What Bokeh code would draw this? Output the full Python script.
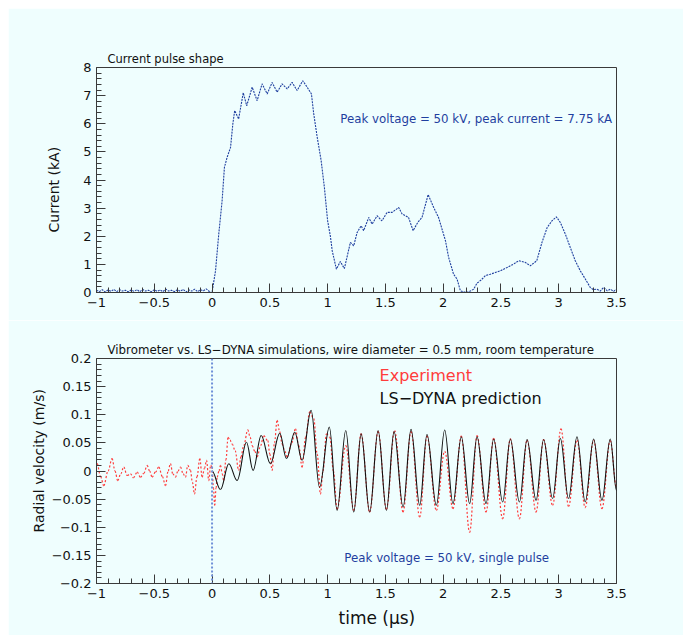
from bokeh.plotting import figure
from bokeh.layouts import column
from bokeh.models import FixedTicker, Label, Span, CustomJSTickFormatter, Range1d, Title
from bokeh.embed import file_html
from bokeh.resources import INLINE
import numpy as np

# ---------------- data ----------------
x_ticks = [-1, -0.5, 0, 0.5, 1, 1.5, 2, 2.5, 3, 3.5]
cur_y_ticks = [0, 1, 2, 3, 4, 5, 6, 7, 8]
vel_y_ticks = [-0.2, -0.15, -0.1, -0.05, 0, 0.05, 0.1, 0.15, 0.2]

t_cur = [-1.0, -0.975, -0.95, -0.925, -0.9, -0.875, -0.85, -0.825, -0.8, -0.775,
         -0.75, -0.725, -0.7, -0.675, -0.65, -0.625, -0.6, -0.575, -0.55, -0.525,
         -0.5, -0.475, -0.45, -0.425, -0.4, -0.375, -0.35, -0.325, -0.3, -0.275,
         -0.25, -0.225, -0.2, -0.175, -0.15, -0.125, -0.1, -0.075, -0.05, -0.025, 0.0,
         0.03, 0.058, 0.087, 0.107, 0.13, 0.16, 0.18, 0.196, 0.23, 0.27, 0.30, 0.347,
         0.39, 0.433, 0.477, 0.52, 0.563, 0.606, 0.65, 0.693, 0.736, 0.785, 0.823,
         0.86, 0.88, 0.91, 0.944, 0.972, 1.0, 1.024, 1.04, 1.076, 1.11, 1.145, 1.197,
         1.226, 1.255, 1.29, 1.312, 1.356, 1.385, 1.428, 1.47, 1.515, 1.558, 1.615,
         1.645, 1.70, 1.74, 1.78, 1.817, 1.87, 1.918, 1.96, 2.02, 2.047, 2.09, 2.12,
         2.149, 2.2, 2.235, 2.264, 2.293, 2.33, 2.365, 2.408, 2.45, 2.495, 2.553,
         2.61, 2.653, 2.71, 2.754, 2.81, 2.855, 2.9, 2.942, 2.98, 3.014, 3.057, 3.1,
         3.143, 3.187, 3.23, 3.273, 3.3, 3.33, 3.36, 3.388, 3.42, 3.446, 3.475, 3.5]
i_cur = [0.08, 0.03, 0.1, 0.02, 0.09, 0.04, 0.11, 0.03, 0.1, 0.05,
         0.08, 0.02, 0.09, 0.04, 0.1, 0.03, 0.11, 0.05, 0.08, 0.02,
         0.1, 0.04, 0.09, 0.03, 0.12, 0.05, 0.08, 0.03, 0.1, 0.04,
         0.11, 0.02, 0.09, 0.05, 0.12, 0.03, 0.1, 0.06, 0.13, 0.04, 0.0,
         0.77, 2.08, 3.26, 4.45, 4.8, 5.16, 6.0, 6.47, 6.17, 7.1, 6.64, 7.3,
         6.82, 7.42, 7.06, 7.47, 7.12, 7.42, 7.24, 7.47, 7.18, 7.53, 7.3,
         7.06, 6.35, 5.52, 4.69, 3.74, 2.55, 2.0, 1.48, 0.83, 1.1, 0.85, 1.78,
         1.66, 2.13, 2.37, 2.2, 2.67, 2.43, 2.73, 2.55, 2.85, 2.85, 3.02,
         2.79, 2.67, 2.2, 2.49, 2.67, 3.48, 3.02, 2.67, 1.84, 1.25, 0.65, 0.48,
         0.06, 0.0, 0.05, 0.12, 0.33, 0.45, 0.6, 0.65, 0.71, 0.77, 0.89,
         1.01, 1.13, 1.07, 0.95, 1.13, 1.78, 2.31, 2.55, 2.69, 2.49, 2.08, 1.6,
         1.13, 0.77, 0.48, 0.18, 0.1, 0.12, 0.05, 0.18, 0.06, 0.12, 0.04, 0.12]

t_sim = [0.0, 0.073, 0.145, 0.217, 0.298, 0.355, 0.425, 0.505, 0.586, 0.644, 0.716,
         0.779, 0.857, 0.93, 1.015, 1.082, 1.157, 1.226, 1.29, 1.364, 1.437, 1.509,
         1.575, 1.653, 1.722, 1.797, 1.86, 1.941, 2.013, 2.085, 2.157, 2.229, 2.293,
         2.371, 2.437, 2.515, 2.581, 2.66, 2.726, 2.804, 2.869, 2.947, 3.014, 3.085,
         3.158, 3.229, 3.302, 3.374, 3.446, 3.5]
v_sim = [0.0, -0.033, 0.013, -0.017, 0.051, 0.001, 0.063, 0.013, 0.067, 0.022, 0.069,
         0.019, 0.108, -0.029, 0.078, -0.07, 0.072, -0.073, 0.066, -0.073, 0.072, -0.07,
         0.07, -0.064, 0.074, -0.061, 0.065, -0.061, 0.073, -0.058, 0.061, -0.058, 0.061,
         -0.058, 0.057, -0.055, 0.057, -0.055, 0.056, -0.052, 0.056, -0.049, 0.058, -0.049,
         0.061, -0.055, 0.057, -0.052, 0.057, -0.035]

t_exp = [-1.0, -0.994, -0.965, -0.937, -0.9, -0.865, -0.84, -0.816, -0.79, -0.764,
         -0.735, -0.706, -0.68, -0.648, -0.62, -0.59, -0.562, -0.54, -0.519, -0.49,
         -0.461, -0.43, -0.403, -0.38, -0.36, -0.34, -0.317, -0.295, -0.273, -0.25,
         -0.23, -0.21, -0.187, -0.17, -0.152, -0.13, -0.106, -0.086, -0.065, -0.048,
         -0.028, -0.012, 0.0, 0.012, 0.023, 0.035, 0.044, 0.06, 0.073, 0.088, 0.101,
         0.12, 0.139, 0.155, 0.174, 0.2, 0.23, 0.25, 0.274, 0.309, 0.33, 0.347, 0.37,
         0.39, 0.42, 0.447, 0.482, 0.5, 0.52, 0.54, 0.563, 0.585, 0.606, 0.63, 0.65,
         0.69, 0.722, 0.75, 0.779, 0.81, 0.845, 0.88, 0.91, 0.938, 0.96, 0.99, 1.02,
         1.05, 1.082, 1.157, 1.226, 1.29, 1.364, 1.437, 1.509, 1.58, 1.653, 1.722,
         1.797, 1.86, 1.941, 2.013, 2.085, 2.157, 2.229, 2.293, 2.371, 2.437, 2.515,
         2.581, 2.66, 2.726, 2.804, 2.869, 2.947, 3.02, 3.085, 3.158, 3.229, 3.302,
         3.374, 3.446, 3.5]
v_exp = [0.01, 0.013, -0.01, -0.026, 0.0, 0.022, 0.0, -0.017, -0.005, 0.007,
         -0.008, -0.005, -0.012, -0.002, -0.011, -0.004, 0.01, 0.0, -0.011, -0.002,
         0.007, -0.01, -0.026, 0.0, 0.013, -0.005, -0.011, 0.0, 0.007, -0.005,
         -0.011, 0.01, 0.001, -0.02, -0.041, -0.01, 0.022, -0.011, 0.005, 0.019,
         -0.017, 0.01, 0.007, -0.03, -0.061, -0.03, -0.011, 0.0, 0.01, -0.005, -0.017,
         0.02, 0.06, 0.055, 0.048, 0.036, 0.001, 0.025, 0.045, 0.073, 0.06, 0.045, 0.035,
         0.025, 0.045, 0.063, 0.054, 0.03, 0.001, 0.05, 0.09, 0.07, 0.048, 0.035, 0.025,
         0.05, 0.075, 0.045, 0.007, 0.06, 0.105, 0.093, 0.03, -0.041, 0.0, 0.066, 0.06,
         0.0, -0.068, 0.045, -0.07, 0.066, -0.073, 0.07, -0.068, 0.072, -0.073, 0.07,
         -0.082, 0.062, -0.07, 0.035, -0.067, 0.062, -0.109, 0.063, -0.073, 0.058, -0.085,
         0.057, -0.085, 0.055, -0.073, 0.056, -0.061, 0.075, -0.063, 0.055, -0.065, 0.055,
         -0.067, 0.054, -0.03]

# ---------------- style ----------------
BG = "#effefe"
AX = "#3a3a3a"
BLUE = "#1f3f9f"
RED = "#ff3c3c"
FONT = "DejaVu Sans"

minus_fmt = CustomJSTickFormatter(code="return String(tick).replace('-', '\u2212');")


def minor(lo, hi, step, majors):
    n = int(round((hi - lo) / step))
    vals = [round(lo + k * step, 4) for k in range(n + 1)]
    return [v for v in vals if all(abs(v - m) > 1e-9 for m in majors)]


def make_fig(height, top, bottom, yr, yticks, ystep):
    p = figure(width=675, height=height, output_backend="svg", toolbar_location=None,
               x_range=Range1d(-1, 3.5), y_range=Range1d(*yr),
               min_border_left=88, min_border_right=67,
               min_border_top=top, min_border_bottom=bottom)
    p.background_fill_color = BG
    p.border_fill_color = BG
    p.outline_line_color = AX
    p.outline_line_width = 1
    p.grid.visible = False
    p.xaxis.ticker = FixedTicker(ticks=x_ticks, minor_ticks=minor(-1, 3.5, 0.1, x_ticks))
    p.yaxis.ticker = FixedTicker(ticks=yticks, minor_ticks=minor(yr[0], yr[1], ystep, yticks))
    for ax in (p.xaxis[0], p.yaxis[0]):
        ax.formatter = minus_fmt
        ax.axis_line_color = AX
        ax.major_tick_line_color = AX
        ax.minor_tick_line_color = AX
        ax.major_tick_in = 9
        ax.major_tick_out = 0
        ax.minor_tick_in = 5
        ax.minor_tick_out = 0
        ax.major_label_text_font = FONT
        ax.major_label_text_font_size = "13px"
        ax.major_label_text_color = "#111111"
    p.xaxis.major_label_standoff = 5
    p.yaxis.major_label_standoff = 5
    return p


def title(text, size, offset, standoff, color="#111111"):
    return Title(text=text, align="left", offset=offset, standoff=standoff,
                 text_font=FONT, text_font_size=size, text_font_style="normal",
                 text_color=color)


def smooth(p, xs, ys, **kw):
    x = np.asarray(xs, dtype=float)
    y = np.asarray(ys, dtype=float)
    dx = x[1:] - x[:-1]
    p.bezier(x0=x[:-1], y0=y[:-1], x1=x[1:], y1=y[1:],
             cx0=x[:-1] + 0.3642 * dx, cy0=y[:-1],
             cx1=x[1:] - 0.3642 * dx, cy1=y[1:], **kw)


# ---------------- top panel ----------------
p1 = make_fig(312, 59, 28, (0, 8), cur_y_ticks, 0.2)
p1.line(t_cur, i_cur, line_color=BLUE, line_width=1.1, line_dash="2 1")
p1.add_layout(title("Current pulse shape", "11.5px", 11, 3), "above")
p1.add_layout(title("Current (kA)", "14px", 60, 38), "left")
p1.add_layout(Label(x=1.11, y=6.17, text="Peak voltage = 50 kV, peak current = 7.75 kA",
                    text_font=FONT, text_font_size="11.8px", text_baseline="middle",
                    text_color=BLUE))

# ---------------- bottom panel ----------------
p2 = make_fig(315, 38, 52, (-0.2, 0.2), vel_y_ticks, 0.01)
p2.add_layout(Span(location=0, dimension="height", line_color="#6f8fd8",
                   line_width=2, line_dash="2 2"))
smooth(p2, t_exp, v_exp, line_color=RED, line_width=1.2, line_dash="2 2")
smooth(p2, t_sim, v_sim, line_color="#111111", line_width=1.1)
p2.add_layout(title("Vibrometer vs. LS\u2212DYNA simulations, wire diameter = 0.5 mm, room temperature",
                    "11.8px", 11, 3), "above")
p2.add_layout(title("Radial velocity (m/s)", "14px", 51, 3), "left")
p2.add_layout(title("time (\u03bcs)", "17px", 242, 11), "below")
p2.add_layout(Label(x=1.45, y=0.17, text="Experiment", text_font=FONT,
                    text_font_size="16px", text_baseline="middle", text_color=RED))
p2.add_layout(Label(x=1.45, y=0.129, text="LS\u2212DYNA prediction", text_font=FONT,
                    text_font_size="16px", text_baseline="middle", text_color="#111111"))
p2.add_layout(Label(x=1.145, y=-0.155, text="Peak voltage = 50 kV, single pulse",
                    text_font=FONT, text_font_size="11.8px", text_baseline="middle",
                    text_color=BLUE))

layout = column(p1, p2, margin=(8, 0, 0, 8))
open("out.html", "w").write(file_html(layout, INLINE))
